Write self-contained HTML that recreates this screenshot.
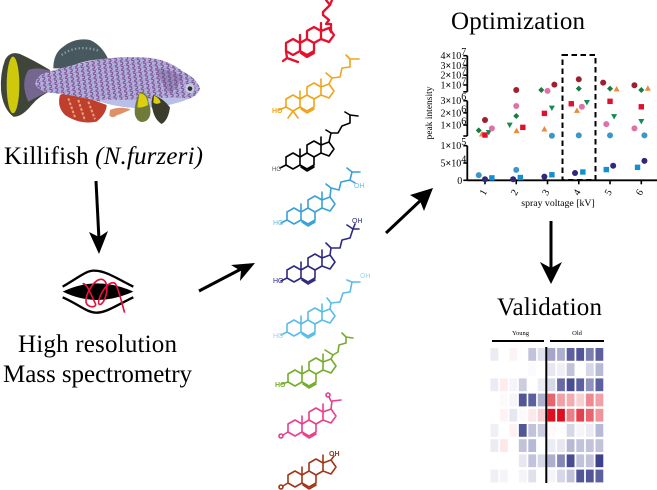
<!DOCTYPE html>
<html lang="en">
<head>
<meta charset="utf-8">
<title>Killifish lipidomics workflow</title>
<style>
html,body{margin:0;padding:0;background:#fff;}
svg{display:block;}
text{font-family:"Liberation Serif",serif;fill:#000;}
.big{font-size:25px;}
.mol{fill:none;stroke-width:1.6;stroke-linejoin:round;stroke-linecap:round;}
.mt{font-size:7px;stroke:none;font-family:"Liberation Sans",sans-serif;}
.tick{font-size:10px;}
.times{font-weight:bold;}
</style>
</head>
<body>
<svg id="fig" xmlns="http://www.w3.org/2000/svg" width="657" height="490" viewBox="0 0 657 490">
<defs>
  <pattern id="scales" width="17" height="13" patternUnits="userSpaceOnUse" patternTransform="rotate(-8)">
    <rect width="17" height="13" fill="#b2b0dc"/>
    <path d="M3 2 Q11 2 11 6.5 Q11 11 3 11" fill="none" stroke="#7a4c8c" stroke-width="3.2"/>
    <path d="M13 0 Q17 0 17 3" fill="none" stroke="#8f6aa8" stroke-width="2"/>
  </pattern>
  <g id="steroid">
    <path d="M0-8 7-4 7 4 0 8-7 4-7-4Z M7-4 14-8 21-4 21 4 14 8 7 4 M14-8 14-16 21-20 28-16 28-8 21-4 M28-16 36-19 41-12 36-5 28-8Z M7-4 7-12 M28-16 28-24 M8 6 14 10 21 6"/>
  </g>
</defs>

<!-- Fish -->
<g transform="translate(0,30) scale(.3333)">
  <path d="M160 115Q160 70 190 50Q225 22 270 30Q305 45 325 88Q260 85 200 115Z" fill="#47585f"/>
  <path d="M185 75Q230 42 295 62" fill="none" stroke="#8b9ca2" stroke-width="7" stroke-dasharray="4 7"/>
  <path d="M180 195Q170 230 195 255Q240 285 290 275Q320 250 320 225Q260 200 190 190Z" fill="#bf3f2c"/>
  <path d="M205 205L225 262M235 210L255 272M265 215L285 268" stroke="#e8a080" stroke-width="6" stroke-dasharray="8 5" fill="none"/>
  <path d="M150 120Q100 90 60 72Q30 62 15 90Q0 130 3 180Q8 235 40 260Q65 262 95 225Q120 195 160 180Z" fill="#3f4538"/>
  <path d="M150 122Q110 110 85 120Q60 160 85 215Q120 195 160 180Z" fill="#75668f"/>
  <ellipse cx="39" cy="165" rx="19" ry="85" fill="#cfc90c"/>
  <path d="M130 130Q200 110 260 95Q340 78 430 82Q500 85 550 125Q590 145 600 175Q595 195 570 205Q520 225 460 232Q380 240 300 215Q220 195 150 188Q115 185 105 160Q110 140 130 130Z" fill="url(#scales)"/>
  <path d="M300 208Q380 212 460 205Q520 200 570 205Q520 225 460 232Q380 240 300 215Z" fill="#b9bfe6"/>
  <path d="M470 115Q520 120 550 140Q530 175 510 190Q480 160 470 115Z" fill="#6a4a80" opacity=".35"/>
  <circle cx="570" cy="175" r="14" fill="#c7cbe0"/>
  <circle cx="570" cy="176" r="7" fill="#2d2b30"/>
  <path d="M330 240Q360 228 392 238Q370 250 352 255Q335 268 328 255Z" fill="#e09068"/>
  <path d="M420 185Q445 190 445 215Q460 255 440 272Q415 285 405 255Q400 225 420 185Z" fill="#6f7a3b"/>
  <path d="M418 190Q442 190 444 225Q425 235 412 232Z" fill="#dcce10"/>
  <path d="M460 195Q490 205 510 232Q505 270 485 282Q465 270 458 240Q450 215 460 195Z" fill="#3c3c2c"/>
  <path d="M462 197Q480 205 482 218Q470 225 460 218Z" fill="#dcce10"/>
</g>

<text class="big" x="4" y="164" textLength="199">Killifish <tspan font-style="italic">(N.furzeri)</tspan></text>

<!-- Mass spec icon -->
<g transform="translate(50,260) scale(.3333)">
  <path d="M38 95Q140 45 250 95Q140 145 38 95Z" fill="#000"/>
  <path d="M38 80C90 50 110 30 135 32C165 32 200 55 250 80" fill="none" stroke="#000" stroke-width="7"/>
  <path d="M38 112C90 135 110 158 140 158C170 158 200 135 250 112" fill="none" stroke="#000" stroke-width="7"/>
  <path d="M98 72C110 65 125 110 135 128C145 145 110 145 108 125C106 100 135 55 155 58C175 62 175 100 160 125C150 140 140 135 150 110C160 85 180 62 195 70C205 80 215 130 224 158" fill="none" stroke="#e4123c" stroke-width="5"/>
</g>

<text class="big" x="18" y="352" textLength="159">High resolution</text>
<text class="big" x="3" y="382" textLength="189">Mass spectrometry</text>

<!-- Arrows -->
<g>
  <path d="M96 181L99 240" stroke="#000" stroke-width="3" fill="none"/>
  <path d="M89 232L99 254L108 231L99 237Z" fill="#000"/>
</g>
<g>
  <path d="M199 291L243 268" stroke="#000" stroke-width="3" fill="none"/>
  <path d="M231 265L255 263L240 281L241 271Z" fill="#000"/>
</g>
<g>
  <path d="M386 233L421 200" stroke="#000" stroke-width="3" fill="none"/>
  <path d="M410 195L433 188L424 211L420 201Z" fill="#000"/>
</g>
<g>
  <path d="M551 221L551 270" stroke="#000" stroke-width="3" fill="none"/>
  <path d="M540 262L551 284L562 262L551 268Z" fill="#000"/>
</g>

<!-- Steroid molecules -->
<g class="mol" stroke="#e4112d" style="stroke-width:2.3">
  <use href="#steroid" x="293" y="47"/>
  <polyline points="329,28 331,32 331,24 326,24 329,20 323,15 323,12 330,5 326,0"/>
  <path d="M330 5 332 0M286 51 287 58 M287 58 283 61M287 58 298 62"/>
</g>
<g class="mol" stroke="#efa51a">
  <use href="#steroid" x="293" y="103"/>
  <polyline points="329,84 332,78 340,77 342,68 350,67 350,59"/>
  <path d="M346 55 350 59 359 59M332 78 326 73M286 107 279 110M293 111 288 118M293 111 298 118"/>
  <text class="mt" x="272" y="113" style="fill:#efa51a;font-weight:bold">HO</text>
</g>
<g class="mol" stroke="#000">
  <use href="#steroid" x="293" y="161"/>
  <polyline points="329,142 331,133 338,133 342,126 350,123 350,115"/>
  <path d="M345 112 350 115 358 116M331 133 326 130M286 165 280 168"/>
  <text class="mt" x="272" y="171" style="fill:#555;font-size:6px">HO</text>
</g>
<g class="mol" stroke="#3aa0d8">
  <use href="#steroid" x="294" y="216"/>
  <polyline points="330,197 331,188 339,190 341,182 350,180 352,172"/>
  <path d="M347 168 352 172 360 172M331 188 326 184M350 180 355 183M287 220 281 223"/>
  <text class="mt" x="273" y="225" style="fill:#6dbbe3">HO</text>
  <text class="mt" x="354" y="188" style="fill:#6dbbe3">OH</text>
</g>
<g class="mol" stroke="#2e2a80">
  <use href="#steroid" x="294" y="274"/>
  <polyline points="330,255 331,248 340,248 342,240 350,238 353,229"/>
  <path d="M347 225 353 229 359 229M353 229 355 224M331 248 326 243M287 278 281 281"/>
  <text class="mt" x="273" y="283" style="fill:#2e2a80">HO</text>
  <text class="mt" x="352" y="223" style="fill:#2e2a80">OH</text>
</g>
<g class="mol" stroke="#5bbce8">
  <use href="#steroid" x="294" y="328"/>
  <polyline points="330,309 331,303 340,302 343,293 350,292 352,282 360,282"/>
  <path d="M347 280 352 282M331 303 327 298M287 332 281 335"/>
  <text class="mt" x="273" y="338" style="fill:#9ad6f0">HO</text>
  <text class="mt" x="360" y="278" style="fill:#9ad6f0">OH</text>
</g>
<g class="mol" stroke="#76ac2e">
  <use href="#steroid" x="295" y="378"/>
  <polyline points="331,359 333,355 338,352 339,345 346,343 346,337"/>
  <path d="M342 333 346 337 353 338M333 355 325 350M288 382 282 384"/>
  <text class="mt" x="275" y="387" style="fill:#76ac2e;font-weight:bold">HO</text>
</g>
<g class="mol" stroke="#e8408c">
  <use href="#steroid" x="295" y="428"/>
  <path d="M331 409 332 401 341 400M331 401 329 397M288 432 283 435"/>
  <circle cx="281" cy="436" r="2"/>
  <circle cx="328" cy="395" r="2"/>
</g>
<g class="mol" stroke="#a03818">
  <use href="#steroid" x="295" y="479"/>
  <path d="M331 460 334 456M288 483 283 486"/>
  <circle cx="281" cy="487" r="2"/>
  <text class="mt" x="329" y="456" style="fill:#a03818;font-weight:bold">OH</text>
</g>

<text class="big" x="451" y="29" textLength="134">Optimization</text>
<text class="big" x="497" y="315" textLength="105">Validation</text>

<!-- Scatter chart -->
<g id="chart">
  <text font-size="9.5" text-anchor="middle" transform="translate(432,113) rotate(-90)">peak intensity</text>
  <text font-size="9.8" text-anchor="middle" x="558" y="206">spray voltage [kV]</text>
  <rect x="562.5" y="55" width="33" height="125" fill="none" stroke="#000" stroke-width="2" stroke-dasharray="5.5 3.5"/>
</g>

<!-- Heatmap -->
<g id="heat">
  <text font-size="6.5" text-anchor="middle" x="520.5" y="335">Young</text>
  <text font-size="6.5" text-anchor="middle" x="577" y="335">Old</text>
  <rect x="492" y="340" width="52" height="2" fill="#000"/>
  <rect x="550" y="340" width="54" height="2" fill="#000"/>
</g>

<script>
// ---- scatter data (peak intensity vs. spray voltage) ----
var voltageTicks = [1, 2, 3, 4, 5, 6];
var lowTicks = [0, 50000, 100000];
var lowTickLabels = ['0', '5×10|4', '1×10|5'];
var midTicks = [1000000, 2000000, 3000000];
var midTickLabels = ['1×10|6', '2×10|6', '3×10|6'];
var highTicks = [10000000, 20000000, 30000000, 40000000];
var highTickLabels = ['1×10|7', '2×10|7', '3×10|7', '4×10|7'];

var darkRedVoltage = [1, 2, 3.22, 4, 4.78, 5.78];
var darkRedIntensity = [1410000, 4900000, 10300000, 15800000, 12400000, 9700000];
var greenDiamondVoltage = [0.8, 2, 2.8, 4, 5, 6];
var greenDiamondIntensity = [560000, 1740000, 4900000, 6300000, 6300000, 4900000];
var orangeVoltage = [0.9, 2.01, 2.9, 3.94, 5.21, 6.21];
var orangeIntensity = [260000, 530000, 670000, 2200000, 5900000, 6600000];
var redSquareVoltage = [1, 2.21, 2.9, 3.76, 5, 6];
var redSquareIntensity = [180000, 810000, 1960000, 2750000, 2950000, 2500000];
var tealVoltage = [1.12, 1.79, 3.14, 4.26, 5.13, 6];
var tealIntensity = [400000, 1000000, 2400000, 2860000, 1700000, 1300000];
var pinkVoltage = [1.22, 2, 3, 4.1, 4.88, 5.78];
var pinkIntensity = [730000, 2560000, 3900000, 2500000, 1080000, 730000];
var skyVoltage = [0.8, 2, 3.14, 4, 5, 6.1];
var skyIntensity = [15000, 30000, 120000, 150000, 150000, 150000];
var navyVoltage = [1, 1.9, 2.9, 3.88, 5.1, 6.1];
var navyIntensity = [3000, 3000, 10500, 21000, 42000, 56000];
var blueSquareVoltage = [1.22, 2.13, 3.14, 4.13, 4.88, 5.88];
var blueSquareIntensity = [7000, 8000, 16000, 24000, 31000, 37500];

// ---- heatmap data (positive = blue, negative = red) ----
var heatRowA = [0.1, 0, -0.05, 0, 0.3, 0.15, 0.45, 0.4, 0.8, 0.85, 0.65, 0.8];
var heatRowB = [0, 0, 0, 0, 0.02, 0, 0.12, 0.08, 0.3, 0, 0.2, 0.35];
var heatRowC = [0.1, -0.08, 0.05, 0.25, 0, 0.1, 0.2, 0.75, 0.9, 0.8, 0.55, 0.8];
var heatRowD = [0, -0.02, 0.05, 0.85, 0.8, 0.4, -0.65, -0.4, -0.35, -0.2, -0.5, -0.4];
var heatRowE = [0, -0.05, 0.12, -0.02, -0.1, -0.2, -1, -1, -0.55, -0.8, -0.65, -0.45];
var heatRowF = [0.08, 0, -0.06, 0.85, 0.3, 0.25, -0.02, 0, 0.2, 0.05, 0.1, 0.35];
var heatRowG = [0.1, -0.1, 0, 0.3, 0.35, 0, 0.1, 0.12, 0.35, 0.3, 0.3, 0.3];
var heatRowH = [0, 0, 0, 0.12, 0.3, 0.2, 0.4, 0.6, 0.9, 0.3, 0.3, 0.95];
var heatRowI = [0.08, 0.05, 0, 0.05, 0.15, 0, 0.05, 0.2, 0.3, 0.85, 0.85, 0.8];

var NS = 'http://www.w3.org/2000/svg';
var fig = document.getElementById('fig');
var chart = document.getElementById('chart');
var heat = document.getElementById('heat');

function lin(v, d0, d1, r0, r1) { return r0 + (v - d0) / (d1 - d0) * (r1 - r0); }
function xScale(v) { return lin(v, 1, 6, 485, 641.3); }
function yScale(v) {
  if (v <= 100000) return lin(v, 0, 100000, 180.3, 145.7);
  if (v <= 3000000) return lin(v, 100000, 3000000, 136, 100.7);
  return lin(v, 3000000, 40000000, 91.8, 55.7);
}
function make(tag, parent) {
  var e = document.createElementNS(NS, tag);
  parent.appendChild(e);
  return e;
}
function seg(x1, y1, x2, y2, name, w) {
  var l = make('line', chart);
  l.setAttribute('x1', x1);
  l.setAttribute('y1', y1);
  l.setAttribute('x2', x2);
  l.setAttribute('y2', y2);
  l.setAttribute('stroke', '#000');
  l.setAttribute('stroke-width', w || 1.6);
  
  
}
var axisX = 467.3;
seg(axisX, yScale(0), axisX, yScale(100000), 'y-axis-lower-segment', 1.8);
seg(axisX, yScale(100000.5), axisX, yScale(3000000), 'y-axis-middle-segment', 1.8);
seg(axisX, yScale(3000001), axisX, yScale(40000000), 'y-axis-upper-segment', 1.8);
seg(axisX, yScale(0), 657, yScale(0), 'x-axis-line', 1.8);
seg(axisX - 4, yScale(100000.5), axisX, yScale(100000.5), 'y-axis-break-tick-middle');
seg(axisX - 4, yScale(3000001), axisX, yScale(3000001), 'y-axis-break-tick-upper');

function yTicks(values, labels) {
  values.forEach(function (v, i) {
    var y = yScale(v);
    seg(axisX - 4, y, axisX, y, 'y-axis-tick');
    var parts = labels[i].split('|');
    var t = make('text', chart);
    t.setAttribute('class', 'tick');
    t.setAttribute('text-anchor', parts[1] ? 'start' : 'end');
    t.setAttribute('x', parts[1] ? 440.5 : axisX - 5);
    t.setAttribute('y', y + 3.5);
    
    
    if (parts[1]) {
      var glyphs = parts[0].split('×');
      var lead = make('tspan', t);
      lead.textContent = glyphs[0];
      var times = make('tspan', t);
      times.setAttribute('class', 'times');
      times.textContent = '×';
      var base = make('tspan', t);
      base.textContent = glyphs[1];
      var b = make('tspan', t);
      b.setAttribute('dy', '-4');
      b.textContent = parts[1];
    } else {
      t.textContent = parts[0];
    }
  });
}
yTicks(lowTicks, lowTickLabels);
yTicks(midTicks, midTickLabels);
yTicks(highTicks, highTickLabels);

voltageTicks.forEach(function (v) {
  var x = xScale(v);
  seg(x, yScale(0), x, yScale(0) + 4, 'x-axis-tick');
  var t = make('text', chart);
  t.setAttribute('class', 'tick');
  t.setAttribute('text-anchor', 'middle');
  t.setAttribute('transform', 'translate(' + (x + 1) + ',194) rotate(-60)');
  
  
  t.textContent = v;
});

function marker(shape, cx, cy, color, name) {
  var r = 3, e;
  if (shape === 'circle') {
    e = make('circle', chart);
    e.setAttribute('cx', cx);
    e.setAttribute('cy', cy);
    e.setAttribute('r', r);
  } else if (shape === 'square') {
    e = make('rect', chart);
    e.setAttribute('x', cx - r + 0.3);
    e.setAttribute('y', cy - r + 0.3);
    e.setAttribute('width', 2 * r - 0.6);
    e.setAttribute('height', 2 * r - 0.6);
  } else {
    var pts = shape === 'up' ? [[0, -r], [r, r * .8], [-r, r * .8]]
      : shape === 'down' ? [[0, r], [r, -r * .8], [-r, -r * .8]]
      : [[0, -r], [r, 0], [0, r], [-r, 0]];
    e = make('polygon', chart);
    e.setAttribute('points', pts.map(function (p) { return (cx + p[0]) + ',' + (cy + p[1]); }).join(' '));
  }
  e.setAttribute('fill', color);
  
  
}
function series(xs, ys, shape, color, name) {
  xs.forEach(function (x, i) { marker(shape, xScale(x), yScale(ys[i]), color, name); });
}
series(darkRedVoltage, darkRedIntensity, 'circle', '#9c2030', 'point-dark-red');
series(greenDiamondVoltage, greenDiamondIntensity, 'diamond', '#1a7a40', 'point-green-diamond');
series(orangeVoltage, orangeIntensity, 'up', '#e88a3c', 'point-orange-triangle');
series(tealVoltage, tealIntensity, 'down', '#128a50', 'point-green-triangle');
series(redSquareVoltage, redSquareIntensity, 'square', '#e01030', 'point-red-square');
series(pinkVoltage, pinkIntensity, 'circle', '#e070a8', 'point-pink');
series(skyVoltage, skyIntensity, 'circle', '#3a98c8', 'point-sky-blue');
series(navyVoltage, navyIntensity, 'circle', '#302878', 'point-navy');
series(blueSquareVoltage, blueSquareIntensity, 'square', '#1090d0', 'point-blue-square');

// ---- heatmap drawing ----
var heatRows = [heatRowA, heatRowB, heatRowC, heatRowD, heatRowE, heatRowF, heatRowG, heatRowH, heatRowI];
function heatColX(c) { return c < 6 ? 490.5 + c * 9.45 : 547.5 + (c - 6) * 9.6; }
function heatRowY(r) { return 348 + r * 15.2; }
function heatColor(v) {
  var t = Math.min(1, Math.abs(v));
  var end = v >= 0 ? [52, 56, 135] : [222, 16, 32];
  return 'rgb(' + end.map(function (c) { return Math.round(255 + (c - 255) * t); }).join(',') + ')';
}
heatRows.forEach(function (row, r) {
  row.forEach(function (v, c) {
    var cell = make('rect', heat);
    cell.setAttribute('x', heatColX(c));
    cell.setAttribute('y', heatRowY(r));
    cell.setAttribute('width', 7.8);
    cell.setAttribute('height', 12.8);
    cell.setAttribute('fill', heatColor(v));
    
    
  });
});
var divider = make('rect', fig);
divider.setAttribute('x', 545.3);
divider.setAttribute('y', 347);
divider.setAttribute('width', 2);
divider.setAttribute('height', 136);
divider.setAttribute('fill', '#000');


</script>
</svg>
</body>
</html>
